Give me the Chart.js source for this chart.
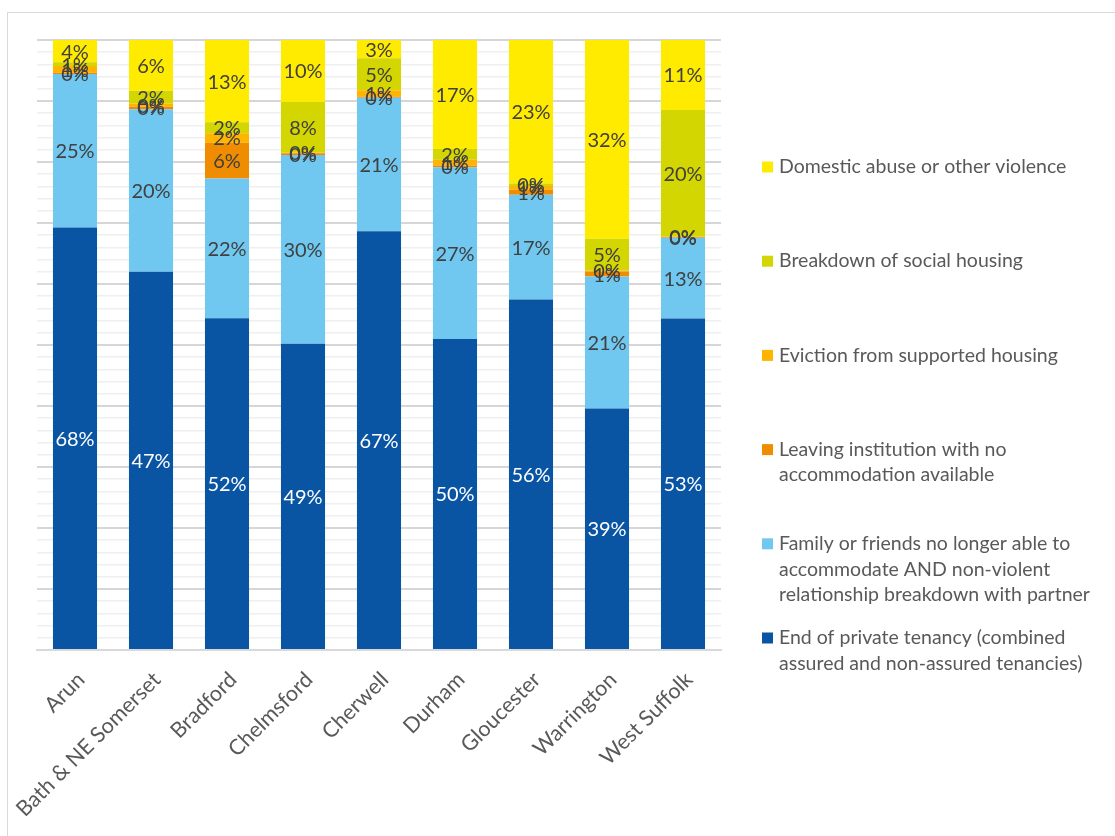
<!DOCTYPE html>
<html>
<head>
<meta charset="utf-8">
<title>Reasons for homelessness by area</title>
<script src="https://cdn.jsdelivr.net/npm/chart.js@4"></script>
<style>
  html, body { margin: 0; padding: 0; background: #fff; overflow: hidden; }
  #wrap { position: relative; width: 1115px; height: 836px; }
  #frame { position: absolute; left: 7px; top: 12px; width: 1200px; height: 900px;
           border: 1.5px solid #d9d9d9; box-sizing: border-box; }
  #chart { position: absolute; left: 0; top: 0; }
</style>
</head>
<body>
<div id="wrap">
  <div id="frame"></div>
  <canvas id="chart" width="1115" height="836"></canvas>
</div>
<script>
// ---------- DATA ----------
const categories = ['Arun', 'Bath & NE Somerset', 'Bradford', 'Chelmsford', 'Cherwell',
                    'Durham', 'Gloucester', 'Warrington', 'West Suffolk'];

// share of households (%) per reason, bottom of the stack first
const privateTenancy     = [68.3, 47.0, 52.0, 49.0, 66.8, 49.6, 56.2, 39.0, 53.0];
const familyFriends      = [24.8, 20.2, 21.9, 30.2, 21.3, 27.4, 16.8, 21.3, 12.9];
const leavingInstitution = [0.2, 0.3, 5.6, 0.3, 0.2, 0.3, 0.8, 0.8, 0.1];
const evictionSupported  = [1.1, 0.4, 1.5, 0.1, 1.0, 0.9, 0.6, 0.2, 0.1];
const socialHousing      = [0.6, 1.6, 1.7, 8.1, 5.1, 1.7, 0.4, 5.1, 20.2];
const domesticAbuse      = [3.6, 6.3, 12.9, 9.9, 2.9, 17.4, 23.0, 32.1, 11.2];

const seriesNames = [
  ['End of private tenancy (combined', 'assured and non-assured tenancies)'],
  ['Family or friends no longer able to', 'accommodate AND non-violent', 'relationship breakdown with partner'],
  ['Leaving institution with no', 'accommodation available'],
  ['Eviction from supported housing'],
  ['Breakdown of social housing'],
  ['Domestic abuse or other violence']
];
const seriesValues = [privateTenancy, familyFriends, leavingInstitution,
                      evictionSupported, socialHousing, domesticAbuse];
const seriesColors = ['#0a55a3', '#70c8f0', '#f08c00', '#ffb400', '#d3d600', '#ffeb00'];

const FONT = "Lato, 'Open Sans', sans-serif";

// 100% stacked: each column is scaled to its own total
const totals = categories.map((_, i) => seriesValues.reduce((s, arr) => s + arr[i], 0));

const datasets = seriesValues.map((vals, k) => ({
  label: seriesNames[k].join(' '),
  raw: vals,
  data: vals.map((v, i) => v / totals[i] * 100),
  backgroundColor: seriesColors[k],
  borderWidth: 0,
  barPercentage: 0.58,
  categoryPercentage: 1.0
}));

// ---------- PLUGINS ----------
// value labels centred in each segment
const segmentLabels = {
  id: 'segmentLabels',
  afterDatasetsDraw(chart) {
    const ctx = chart.ctx;
    ctx.save();
    ctx.font = '20px ' + FONT;
    ctx.textAlign = 'center';
    ctx.textBaseline = 'middle';
    chart.data.datasets.forEach((ds, k) => {
      const meta = chart.getDatasetMeta(k);
      ctx.fillStyle = k === 0 ? '#ffffff' : '#404040';
      meta.data.forEach((bar, i) => {
        const p = bar.getProps(['x', 'y', 'base'], true);
        ctx.fillText(Math.round(ds.raw[i]) + '%', p.x, (p.y + p.base) / 2 + 1);
      });
    });
    ctx.restore();
  }
};

// legend on the right, top entry = top of stack
const sideLegend = {
  id: 'sideLegend',
  afterDraw(chart) {
    const ctx = chart.ctx;
    const x0 = 762, textX = 779, startY = 167, step = 94.2, lineH = 25.6, box = 11;
    ctx.save();
    ctx.font = '19.5px ' + FONT;
    ctx.textAlign = 'left';
    ctx.textBaseline = 'middle';
    const n = chart.data.datasets.length;
    for (let r = 0; r < n; r++) {
      const k = n - 1 - r;
      const y = startY + r * step;
      ctx.fillStyle = seriesColors[k];
      ctx.fillRect(x0, y - box / 2, box, box);
      ctx.fillStyle = '#595959';
      seriesNames[k].forEach((line, j) => ctx.fillText(line, textX, y + j * lineH));
    }
    ctx.restore();
  }
};

// ---------- CHART ----------
new Chart(document.getElementById('chart'), {
  type: 'bar',
  data: { labels: categories, datasets: datasets },
  plugins: [segmentLabels, sideLegend],
  options: {
    responsive: false,
    animation: false,
    devicePixelRatio: 1,
    layout: { padding: { left: 37, right: 394, top: 40, bottom: 0 } },
    plugins: { legend: { display: false }, tooltip: { enabled: false } },
    scales: {
      x: {
        stacked: true,
        grid: { display: false },
        border: { display: true, color: '#d9d9d9', width: 2 },
        ticks: {
          color: '#595959',
          font: { family: FONT, size: 21.5 },
          minRotation: 45,
          maxRotation: 45,
          autoSkip: false,
          labelOffset: 6,
          padding: 9
        },
        afterFit(scale) { scale.height = 186; }
      },
      y: {
        stacked: true,
        min: 0,
        max: 100,
        border: { display: false },
        ticks: { display: false, stepSize: 2 },
        grid: {
          drawTicks: false,
          color: c => (c.tick && Math.round(c.tick.value) % 10 === 0) ? '#d6d6d6' : '#efefef',
          lineWidth: c => (c.tick && Math.round(c.tick.value) % 10 === 0) ? 2 : 1.5
        },
        afterFit(scale) { scale.width = 0; }
      }
    }
  }
});
</script>
</body>
</html>
